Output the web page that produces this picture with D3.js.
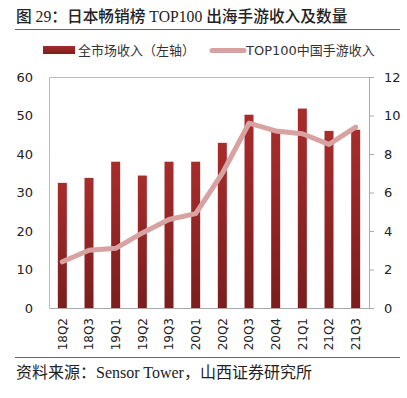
<!DOCTYPE html>
<html>
<head>
<meta charset="utf-8">
<script src="https://cdn.jsdelivr.net/npm/d3@7"></script>
<style>
  body { margin: 0; background: #fff; }
  text { font-family: "DejaVu Sans", "Noto Sans CJK SC", sans-serif; }
</style>
</head>
<body>
<script>
var quarters = ['18Q2','18Q3','19Q1','19Q2','19Q3','20Q1','20Q2','20Q3','20Q4','21Q1','21Q2','21Q3'];
var marketRevenue = [32.5, 33.8, 38.0, 34.4, 38.0, 38.0, 42.9, 50.2, 46.2, 51.8, 46.0, 46.3];
var top100Revenue = [2.4, 3.0, 3.1, 3.9, 4.6, 4.9, 7.0, 9.6, 9.2, 9.05, 8.5, 9.4];
var leftTicks = [0, 10, 20, 30, 40, 50, 60];
var rightTicks = [0, 2, 4, 6, 8, 10, 12];

var w = 407, h = 398;
var margin = {top: 77, left: 49, right: 38, bottom: 90};
var width = w - margin.left - margin.right;
var height = h - margin.top - margin.bottom;
var serif = '"Liberation Serif", "Noto Sans CJK SC", serif';

var svg = d3.select('body').append('svg')
            .attr('width', w)
            .attr('height', h);

var defs = svg.append('defs');
var grad = defs.append('linearGradient')
               .attr('id', 'barGrad')
               .attr('x1', 0).attr('y1', 0).attr('x2', 0).attr('y2', 1);
grad.append('stop').attr('offset', '0%').attr('stop-color', '#a82c2c');
grad.append('stop').attr('offset', '100%').attr('stop-color', '#7a1e1e');

// title
svg.append('text')
   .attr('x', 16).attr('y', 22)
   .style('font-family', serif)
   .style('font-size', '15.7px')
   .style('font-weight', '500')
   .attr('fill', '#222')
   .text('图 29：日本畅销榜 TOP100 出海手游收入及数量');
svg.append('line')
   .attr('x1', 15).attr('x2', 400).attr('y1', 29.5).attr('y2', 29.5)
   .attr('stroke', '#666').attr('stroke-width', 1);

// legend
svg.append('rect')
   .attr('x', 43).attr('y', 46).attr('width', 32).attr('height', 8)
   .attr('fill', 'url(#barGrad)');
svg.append('text')
   .attr('x', 78).attr('y', 55)
   .style('font-size', '13px').attr('fill', '#333')
   .text('全市场收入（左轴）');
svg.append('line')
   .attr('x1', 212).attr('x2', 244).attr('y1', 50.5).attr('y2', 50.5)
   .attr('stroke', '#d8a2a2').attr('stroke-width', 5).attr('stroke-linecap', 'round');
svg.append('text')
   .attr('x', 246).attr('y', 55)
   .style('font-size', '13px').attr('fill', '#333')
   .text('TOP100中国手游收入');

var chart = svg.append('g')
               .attr('transform', 'translate(' + margin.left + ',' + margin.top + ')');

var x = d3.scaleBand()
          .domain(quarters)
          .range([0, width]);
var y = d3.scaleLinear().domain([0, 60]).range([height, 0]);
var y2 = d3.scaleLinear().domain([0, 12]).range([height, 0]);

// frame
chart.append('line')
     .attr('x1', 0).attr('x2', width).attr('y1', 0.5).attr('y2', 0.5)
     .attr('stroke', '#bbb');
chart.append('line')
     .attr('x1', 0.5).attr('x2', 0.5).attr('y1', 0).attr('y2', height)
     .attr('stroke', '#bbb');

var yAxis = d3.axisLeft(y).tickValues(leftTicks).tickSize(0).tickPadding(16);
var y2Axis = d3.axisRight(y2).tickValues(rightTicks).tickSize(5).tickPadding(10);

var gl = chart.append('g').call(yAxis);
gl.select('.domain').remove();
gl.selectAll('text').style('font-size', '13px').attr('fill', '#222')
  .style('font-family', '"DejaVu Sans", sans-serif');

var gr = chart.append('g').attr('transform', 'translate(' + width + ',0)').call(y2Axis);
gr.select('.domain').attr('stroke', '#aaa');
gr.selectAll('line').attr('stroke', '#aaa');
gr.selectAll('text').style('font-size', '13px').attr('fill', '#222')
  .style('font-family', '"DejaVu Sans", sans-serif');

// bars
chart.selectAll('.bar')
     .data(marketRevenue)
     .enter()
     .append('rect')
     .classed('bar', true)
     .attr('x', function(d, i){ return x(quarters[i]) + x.bandwidth() / 2 - 4.5; })
     .attr('y', function(d){ return y(d); })
     .attr('width', 9)
     .attr('height', function(d){ return height - y(d); })
     .attr('fill', 'url(#barGrad)');

// bottom axis
var xAxis = d3.axisBottom(x).tickSize(0).tickPadding(0);
var gx = chart.append('g').attr('transform', 'translate(0,' + height + ')').call(xAxis);
gx.select('.domain').attr('stroke', '#aaa');
gx.selectAll('text')
  .style('font-size', '12px')
  .attr('fill', '#222')
  .style('font-family', '"DejaVu Sans", sans-serif')
  .attr('text-anchor', 'end')
  .attr('dy', '0.35em')
  .attr('transform', 'translate(0,10) rotate(-90)');

// line
var line = d3.line()
             .x(function(d, i){ return x(quarters[i]) + x.bandwidth() / 2; })
             .y(function(d){ return y2(d); });
chart.append('path')
     .datum(top100Revenue)
     .attr('d', line)
     .attr('fill', 'none')
     .attr('stroke', '#d8a2a2')
     .attr('stroke-width', 5)
     .attr('stroke-linejoin', 'round')
     .attr('stroke-linecap', 'round');

// source
svg.append('line')
   .attr('x1', 15).attr('x2', 400).attr('y1', 357.5).attr('y2', 357.5)
   .attr('stroke', '#666').attr('stroke-width', 1);
svg.append('text')
   .attr('x', 16).attr('y', 378)
   .style('font-family', serif)
   .style('font-size', '16px')
   .attr('fill', '#222')
   .text('资料来源：Sensor Tower，山西证券研究所');
</script>
</body>
</html>
